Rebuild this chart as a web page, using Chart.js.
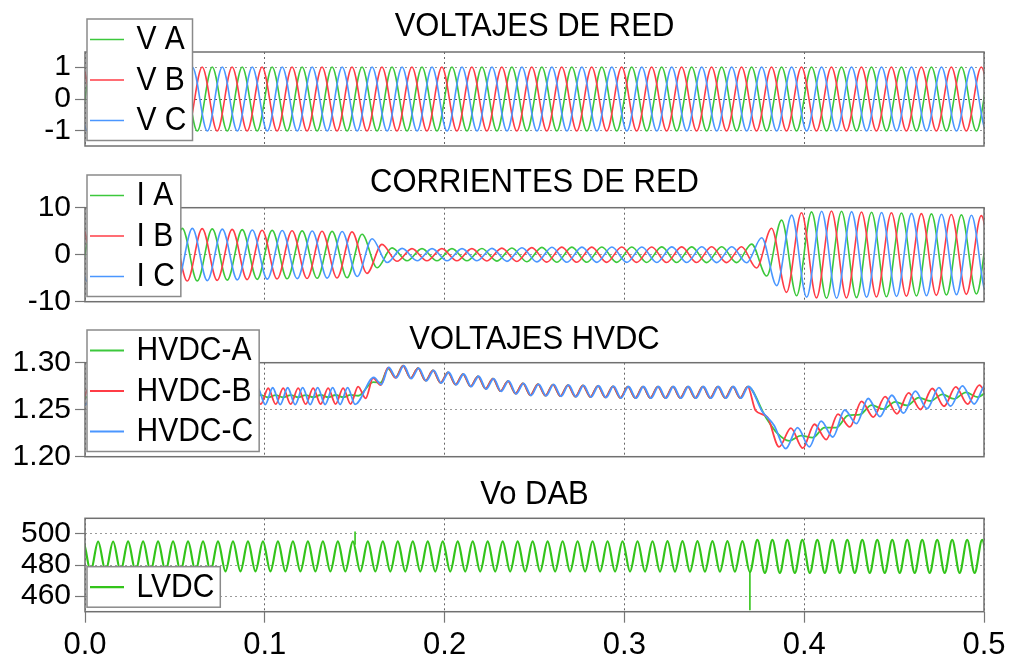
<!DOCTYPE html>
<html>
<head>
<meta charset="utf-8">
<title>Red, HVDC y DAB</title>
<script src="https://cdn.jsdelivr.net/npm/chart.js@4/dist/chart.umd.min.js"></script>
<style>
  html, body { margin: 0; padding: 0; background: #ffffff; }
  #wrap { position: relative; width: 1017px; height: 662px; overflow: hidden; background: #ffffff; }
  #wrap canvas { position: absolute; left: 0; top: 0; }
</style>
</head>
<body>
<div id="wrap">
  <canvas id="cRed" width="1017" height="662"></canvas>
  <canvas id="cCorr" width="1017" height="662"></canvas>
  <canvas id="cHvdc" width="1017" height="662"></canvas>
  <canvas id="cDab" width="1017" height="662"></canvas>
</div>
<script>
// ---------- time axis (s) ----------
const timeTicks = [0, 0.1, 0.2, 0.3, 0.4, 0.5];
const timeTickLabels = ['0.0', '0.1', '0.2', '0.3', '0.4', '0.5'];

// ---------- grid: 60 Hz, crest instants of each phase (s) ----------
const gridPeriod = 1 / 60;
const phaseCrest = [0.0041, -0.0015, 0.0097];          // A, B, C

// ---------- grid voltages (p.u.), peak envelope ----------
const voltageLabels = ['V A', 'V B', 'V C'];
const voltageEnvT = [0, 0.5];
const voltageEnvPeak = [1.0, 1.0];
const voltageTicks = [-1, 0, 1];
const voltageTickLabels = ['-1', '0', '1'];

// ---------- grid currents (A), peak envelope ----------
const currentLabels = ['I A', 'I B', 'I C'];
const currentEnvT =    [0,   0.06, 0.10, 0.148, 0.153, 0.158, 0.164, 0.169, 0.178, 0.22, 0.26, 0.368, 0.373, 0.376, 0.379, 0.382, 0.386, 0.390, 0.395, 0.400, 0.407, 0.415, 0.44, 0.47, 0.50];
const currentEnvPeak = [5.7, 5.6,  5.2,  4.9,   4.5,   3.8,   2.4,   1.5,   1.3,   1.3,  1.6,  1.7,   2.7,   3.5,   4.5,   5.7,   7.0,   8.0,   8.7,   9.0,   9.2,   9.3,   9.0,  8.7,  8.3];
const currentTicks = [-10, 0, 10];
const currentTickLabels = ['-10', '0', '10'];

// ---------- HVDC module voltages (p.u.): mean level and ripple depth ----------
const hvdcLabels = ['HVDC-A', 'HVDC-B', 'HVDC-C'];
const hvdcT =       [0,      0.150,  0.156,  0.162,  0.168,  0.176,  0.196,  0.212,  0.227,  0.245,  0.300,  0.3695, 0.373,  0.3775, 0.3815, 0.386,  0.395,  0.405,  0.416,  0.434,  0.453,  0.471,  0.500];
const hvdcMean =    [1.2640, 1.2645, 1.2700, 1.2790, 1.2885, 1.2910, 1.2850, 1.2815, 1.2770, 1.2715, 1.2685, 1.2685, 1.2500, 1.2490, 1.2280, 1.2210, 1.2185, 1.2230, 1.2320, 1.2510, 1.2560, 1.2625, 1.2670];
const hvdcRippleA = [0.0012, 0.0012, 0.0020, 0.0035, 0.0050, 0.0060, 0.0060, 0.0060, 0.0060, 0.0060, 0.0060, 0.0060, 0.0010, 0.0010, 0.0020, 0.0025, 0.0025, 0.0025, 0.0030, 0.0030, 0.0030, 0.0030, 0.0030];
const hvdcRippleB = [0.0085, 0.0085, 0.0080, 0.0070, 0.0060, 0.0060, 0.0060, 0.0060, 0.0060, 0.0060, 0.0060, 0.0060, 0.0010, 0.0010, 0.0060, 0.0105, 0.0115, 0.0110, 0.0105, 0.0100, 0.0100, 0.0100, 0.0095];
const hvdcRippleC = [0.0090, 0.0090, 0.0085, 0.0070, 0.0062, 0.0062, 0.0062, 0.0062, 0.0062, 0.0062, 0.0062, 0.0062, 0.0010, 0.0010, 0.0065, 0.0110, 0.0120, 0.0115, 0.0110, 0.0105, 0.0105, 0.0105, 0.0100];
// ripple regimes: start, end, period, crest of B, lag of A, lag of C (s)
const hvdcSegStart  = [-0.02,  0.153,  0.3705];
const hvdcSegEnd    = [0.153,  0.3705, 0.52];
const hvdcSegPeriod = [1 / 120, 1 / 120, 0.0131];
const hvdcSegCrestB = [0.0019, 0.0019, 0.3926];
const hvdcSegLagA   = [0.0042, 0.0,    0.0056];
const hvdcSegLagC   = [0.0025, 0.0004, 0.0037];
const hvdcTicks = [1.20, 1.25, 1.30];
const hvdcTickLabels = ['1.20', '1.25', '1.30'];

// ---------- DAB output voltage (V) ----------
const lvdcLabel = 'LVDC';
const lvdcT =      [0,     0.369, 0.372, 0.5];
const lvdcMean =   [485.5, 485.5, 485.5, 485.5];
const lvdcRipple = [9.6,   9.8,   10.6,  10.6];
const lvdcCrest = 0.0073;
const lvdcPeriod = 1 / 120;
const lvdcSpikeT =    [0.1502, 0.3698];
const lvdcSpikeFrom = [493.0,  476.0];
const lvdcSpikeTo =   [501.5,  451.0];
const lvdcTicks = [460, 480, 500];
const lvdcTickLabels = ['460', '480', '500'];

// ---------- colours ----------
const GREEN = '#3cc83c', RED = '#ff3c46', BLUE = '#4a96ff', LVDC_GREEN = '#33c41a';
const FONT = '"Liberation Sans", Arial, Helvetica, sans-serif';
const TEXT_STRETCH = 1.1;   // titles and legend use slightly tall lettering

// value of a knot table at time t (piecewise linear between knots)
function knotValue(ts, vs, t) {
  if (t <= ts[0]) return vs[0];
  for (let i = 1; i < ts.length; i++) {
    if (t <= ts[i]) {
      const f = (t - ts[i - 1]) / (ts[i] - ts[i - 1]);
      return vs[i - 1] + f * (vs[i] - vs[i - 1]);
    }
  }
  return vs[vs.length - 1];
}

// crest / trough turning points of a periodic swing between `from` and `to`;
// the line between them is drawn by Chart.js (monotone cubic)
function addSwing(pts, crest, period, from, to, levelAt, depthAt) {
  const half = period / 2;
  let j = Math.ceil((from - crest) / half);
  let last = pts.length ? pts[pts.length - 1].sign : 0;
  for (; crest + j * half < to; j++) {
    const t = crest + j * half;
    const sign = (((j % 2) + 2) % 2) === 0 ? 1 : -1;
    if (sign === last) continue;
    last = sign;
    pts.push({ x: t, y: levelAt(t) + sign * depthAt(t), sign: sign });
  }
  return pts;
}

function acPhase(envT, envPeak, crest) {
  return addSwing([], crest, gridPeriod, -0.02, 0.52, () => 0, t => knotValue(envT, envPeak, t));
}

function hvdcSeries(ripple, lags) {
  const pts = [];
  for (let s = 0; s < hvdcSegStart.length; s++) {
    addSwing(pts, hvdcSegCrestB[s] + lags[s], hvdcSegPeriod[s], hvdcSegStart[s], hvdcSegEnd[s],
      t => knotValue(hvdcT, hvdcMean, t), t => knotValue(hvdcT, ripple, t));
  }
  return pts;
}

function lvdcSeries() {
  return addSwing([], lvdcCrest, lvdcPeriod, -0.02, 0.52,
    t => knotValue(lvdcT, lvdcMean, t), t => knotValue(lvdcT, lvdcRipple, t));
}

function lvdcSpikes() {
  const pts = [];
  lvdcSpikeT.forEach((t, i) => {
    if (i > 0) pts.push({ x: (lvdcSpikeT[i - 1] + t) / 2, y: null });
    pts.push({ x: t, y: lvdcSpikeFrom[i] });
    pts.push({ x: t, y: lvdcSpikeTo[i] });
  });
  return pts;
}

function wave(label, data, color, order, width) {
  return {
    label: label, data: data, borderColor: color, backgroundColor: color,
    borderWidth: width || 1.6, pointRadius: 0, fill: false,
    cubicInterpolationMode: 'monotone', order: order
  };
}

function tallText(ctx, text, x, y) {
  ctx.save();
  ctx.translate(x, y);
  ctx.scale(1, TEXT_STRETCH);
  ctx.fillText(text, 0, 0);
  ctx.restore();
}

// frame, title and boxed legend of each panel
const panelDecor = {
  id: 'panelDecor',
  afterDatasetsDraw(chart) {
    const { ctx, chartArea: a } = chart;
    ctx.save();
    ctx.strokeStyle = '#707070';
    ctx.lineWidth = 1.5;
    ctx.strokeRect(a.left, a.top, a.right - a.left, a.bottom - a.top);
    ctx.restore();
  },
  afterDraw(chart, args, opts) {
    const { ctx, chartArea: a } = chart;
    ctx.save();
    ctx.fillStyle = '#000';
    ctx.font = '31px ' + FONT;
    ctx.textAlign = 'center';
    ctx.textBaseline = 'alphabetic';
    tallText(ctx, opts.title, (a.left + a.right) / 2, opts.titleY);

    const items = chart.data.datasets.filter(d => d.label);
    const rowH = 40.5;
    ctx.font = '30px ' + FONT;
    const textX = a.left + 51.5;
    let maxW = 0;
    items.forEach(d => { maxW = Math.max(maxW, ctx.measureText(d.label).width); });
    const bx = a.left + 2, by = opts.legendTop;
    const bw = textX + maxW + 6 - bx, bh = rowH * items.length;
    ctx.fillStyle = '#fff';
    ctx.fillRect(bx, by, bw, bh);
    ctx.strokeStyle = '#8a8a8a';
    ctx.lineWidth = 1.5;
    ctx.strokeRect(bx, by, bw, bh);
    items.forEach((d, i) => {
      const cy = by + 20.5 + i * rowH;
      ctx.strokeStyle = d.borderColor;
      ctx.lineWidth = d.borderWidth;
      ctx.beginPath();
      ctx.moveTo(a.left + 5, cy);
      ctx.lineTo(a.left + 39, cy);
      ctx.stroke();
      ctx.fillStyle = '#000';
      ctx.textAlign = 'left';
      ctx.textBaseline = 'middle';
      tallText(ctx, d.label, textX, cy + 0.5);
    });
    ctx.restore();
  }
};

function makePanel(id, p) {
  return new Chart(document.getElementById(id), {
    type: 'line',
    data: { datasets: p.datasets },
    options: {
      responsive: false,
      animation: false,
      events: [],
      layout: { padding: { left: 0, right: 33, top: p.top, bottom: p.bottom } },
      scales: {
        x: {
          type: 'linear', min: 0, max: 0.5,
          afterBuildTicks: s => { s.ticks = timeTicks.map(v => ({ value: v })); },
          afterFit: s => { s.height = p.showTime ? 50.3 : 0; },
          ticks: {
            display: p.showTime, autoSkip: false, maxRotation: 0, padding: 4,
            color: '#000', font: { family: FONT, size: 31 },
            callback: (v, i) => timeTickLabels[i]
          },
          grid: { color: '#666', lineWidth: 1, drawTicks: p.showTime, tickLength: 11, tickColor: '#777', tickWidth: 1.2 },
          border: { display: false, dash: [2, 3] }
        },
        y: {
          type: 'linear', min: p.yMin, max: p.yMax,
          afterBuildTicks: s => { s.ticks = p.yTicks.map(v => ({ value: v })); },
          afterFit: s => { s.width = 85; },
          ticks: {
            autoSkip: false, padding: 4, color: '#000', font: { family: FONT, size: 30 },
            callback: (v, i) => p.yTickLabels[i]
          },
          grid: {
            color: ctx => (p.darkZero && ctx.tick && ctx.tick.value === 0) ? '#555' : '#9a9a9a',
            lineWidth: 1, tickLength: 10, tickColor: '#777', tickWidth: 1.2
          },
          border: { display: false, dash: [2, 3] }
        }
      },
      plugins: {
        legend: { display: false },
        tooltip: { enabled: false },
        panelDecor: { title: p.title, titleY: p.titleY, legendTop: p.legendTop }
      }
    },
    plugins: [panelDecor]
  });
}

makePanel('cRed', {
  title: 'VOLTAJES DE RED', titleY: 35.5, legendTop: 19,
  top: 52, bottom: 516, showTime: false, darkZero: true,
  yMin: -1.47, yMax: 1.47, yTicks: voltageTicks, yTickLabels: voltageTickLabels,
  datasets: [
    wave(voltageLabels[0], acPhase(voltageEnvT, voltageEnvPeak, phaseCrest[0]), GREEN, 2),
    wave(voltageLabels[1], acPhase(voltageEnvT, voltageEnvPeak, phaseCrest[1]), RED, 1),
    wave(voltageLabels[2], acPhase(voltageEnvT, voltageEnvPeak, phaseCrest[2]), BLUE, 0)
  ]
});

makePanel('cCorr', {
  title: 'CORRIENTES DE RED', titleY: 192, legendTop: 175,
  top: 207.7, bottom: 360.3, showTime: false,
  yMin: -10, yMax: 10, yTicks: currentTicks, yTickLabels: currentTickLabels,
  datasets: [
    wave(currentLabels[0], acPhase(currentEnvT, currentEnvPeak, phaseCrest[0]), GREEN, 2),
    wave(currentLabels[1], acPhase(currentEnvT, currentEnvPeak, phaseCrest[1]), RED, 1),
    wave(currentLabels[2], acPhase(currentEnvT, currentEnvPeak, phaseCrest[2]), BLUE, 0)
  ]
});

makePanel('cHvdc', {
  title: 'VOLTAJES HVDC', titleY: 348.5, legendTop: 330,
  top: 362.7, bottom: 205.3, showTime: false,
  yMin: 1.20, yMax: 1.30, yTicks: hvdcTicks, yTickLabels: hvdcTickLabels,
  datasets: [
    wave(hvdcLabels[0], hvdcSeries(hvdcRippleA, hvdcSegLagA), GREEN, 2, 1.8),
    wave(hvdcLabels[1], hvdcSeries(hvdcRippleB, hvdcSegStart.map(() => 0)), RED, 1, 1.8),
    wave(hvdcLabels[2], hvdcSeries(hvdcRippleC, hvdcSegLagC), BLUE, 0, 1.8)
  ]
});

makePanel('cDab', {
  title: 'Vo DAB', titleY: 503.5, legendTop: 566.7,
  top: 518.3, bottom: 0, showTime: true,
  yMin: 450, yMax: 510, yTicks: lvdcTicks, yTickLabels: lvdcTickLabels,
  datasets: [
    wave(lvdcLabel, lvdcSeries(), LVDC_GREEN, 1, 2.2),
    { data: lvdcSpikes(), borderColor: LVDC_GREEN, borderWidth: 1.6, pointRadius: 0, spanGaps: false, fill: false, order: 0 }
  ]
});
</script>
</body>
</html>
